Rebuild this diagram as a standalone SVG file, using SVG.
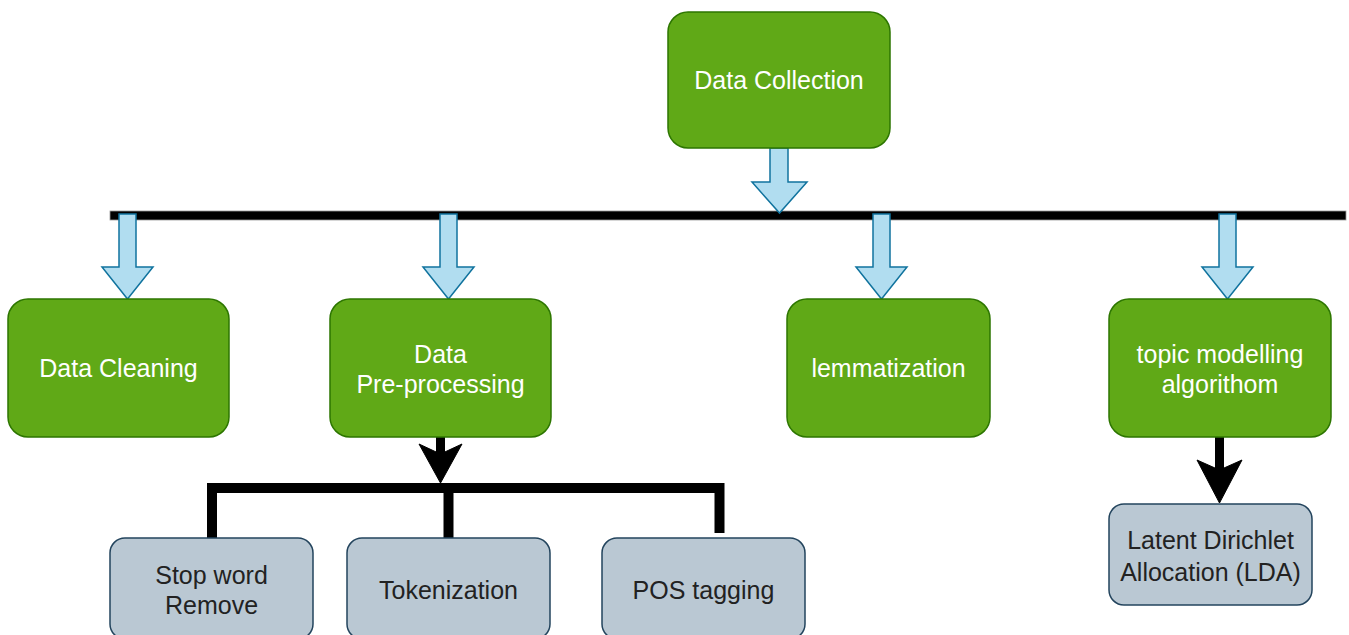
<svg xmlns="http://www.w3.org/2000/svg" width="1349" height="635" viewBox="0 0 1349 635">
  <defs>
    <style>
      .green rect { fill: #60a917; stroke: #2d7600; stroke-width: 1.5; }
      .green text { fill: #ffffff; }
      .grey rect { fill: #bac8d3; stroke: #23445d; stroke-width: 1.5; }
      .grey text { fill: #222222; }
      text { font-family: "Liberation Sans", Arial, sans-serif; font-size: 25px; text-anchor: middle; }
      .bar { fill: #000000; stroke: #999999; stroke-width: 0.8; }
      .blue { fill: #b1ddf0; stroke: #10739e; stroke-width: 1.5; stroke-linejoin: miter; }
      .tree { fill: none; stroke: #000000; stroke-width: 10; stroke-linejoin: miter; stroke-linecap: butt; }
      .shaft { fill: none; stroke: #000000; stroke-width: 9; }
      .head { fill: #000000; stroke: #000000; stroke-width: 1; }
    </style>
  </defs>
  <rect width="1349" height="635" fill="#ffffff"/>

  <!-- connectors -->
  <g id="connectors">
    <!-- main distribution bar -->
    <rect class="bar" x="110" y="211" width="1236" height="9"/>
    <!-- block arrows: collection to bar, bar to each stage -->
    <path class="blue" d="M770,148 H788 V182 H807 L779.5,213 L752,182 H770 Z"/>
    <path class="blue" d="M119,214 H136 V267 H153 L127.5,299 L102,267 H119 Z"/>
    <path class="blue" d="M440,214 H457 V267 H474 L448.5,299 L423,267 H440 Z"/>
    <path class="blue" d="M873,214 H890 V267 H907 L881.5,299 L856,267 H873 Z"/>
    <path class="blue" d="M1219,214 H1236 V267 H1253 L1227.5,299 L1202,267 H1219 Z"/>
    <!-- pre-processing branch -->
    <line class="shaft" x1="440.5" y1="437" x2="440.5" y2="456"/>
    <path class="head" d="M440.5,483 L419,444 L440.5,454 L462,444 Z"/>
    <path class="tree" d="M212,538 V488 H719.5 V533"/>
    <line class="tree" x1="448.5" y1="488" x2="448.5" y2="538"/>
    <!-- topic modelling to LDA -->
    <line class="shaft" x1="1219.5" y1="437" x2="1219.5" y2="472"/>
    <path class="head" d="M1219.5,503 L1197,460 L1219.5,470 L1242,460 Z"/>
  </g>

  <g id="data-collection" class="green">
    <rect x="668" y="12" width="222" height="136" rx="20"/>
    <text x="779" y="89">Data Collection</text>
  </g>
  <g id="data-cleaning" class="green">
    <rect x="8" y="299" width="221" height="138" rx="20"/>
    <text x="118.5" y="377">Data Cleaning</text>
  </g>
  <g id="data-preprocessing" class="green">
    <rect x="330" y="299" width="221" height="138" rx="20"/>
    <text x="440.5" y="363">Data</text>
    <text x="440.5" y="393">Pre-processing</text>
  </g>
  <g id="lemmatization" class="green">
    <rect x="787" y="299" width="203" height="138" rx="20"/>
    <text x="888.5" y="377">lemmatization</text>
  </g>
  <g id="topic-modelling" class="green">
    <rect x="1109" y="299" width="222" height="138" rx="20"/>
    <text x="1220" y="363">topic modelling</text>
    <text x="1220" y="393">algorithom</text>
  </g>

  <g id="stop-word" class="grey">
    <rect x="110" y="538" width="203" height="101" rx="15"/>
    <text x="211.5" y="584">Stop word</text>
    <text x="211.5" y="614">Remove</text>
  </g>
  <g id="tokenization" class="grey">
    <rect x="347" y="538" width="203" height="101" rx="15"/>
    <text x="448.5" y="599">Tokenization</text>
  </g>
  <g id="pos-tagging" class="grey">
    <rect x="602" y="538" width="203" height="101" rx="15"/>
    <text x="703.5" y="599">POS tagging</text>
  </g>
  <g id="lda" class="grey">
    <rect x="1109" y="504" width="203" height="101" rx="15"/>
    <text x="1210.5" y="549">Latent Dirichlet</text>
    <text x="1210.5" y="581">Allocation (LDA)</text>
  </g>
</svg>
